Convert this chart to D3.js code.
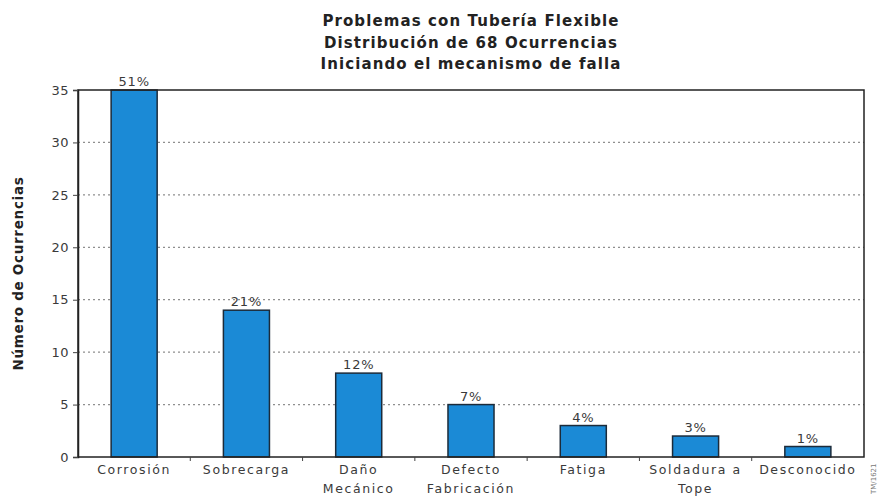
<!DOCTYPE html>
<html>
<head>
<meta charset="utf-8">
<script src="https://cdn.jsdelivr.net/npm/d3@7"></script>
<style>
  html, body { margin: 0; padding: 0; background: #fff; }
  svg { display: block; font-family: "DejaVu Sans", Verdana, sans-serif; }
</style>
</head>
<body>
<svg id="chart" width="880" height="498"></svg>
<script>
// Failure mechanisms for flexible pipe (68 occurrences)
const categories = [
  ["Corrosión"],
  ["Sobrecarga"],
  ["Daño", "Mecánico"],
  ["Defecto", "Fabricación"],
  ["Fatiga"],
  ["Soldadura a", "Tope"],
  ["Desconocido"]
];
const occurrences = [35, 14, 8, 5, 3, 2, 1];
const percentLabels = ["51%", "21%", "12%", "7%", "4%", "3%", "1%"];
const yTicks = [0, 5, 10, 15, 20, 25, 30, 35];
const titleLines = [
  "Problemas con Tubería Flexible",
  "Distribución de 68 Ocurrencias",
  "Iniciando el mecanismo de falla"
];

const svg = d3.select("#chart");
const margin = { left: 78, right: 16, top: 90, bottom: 41 };
const W = 880, H = 498;
const innerW = W - margin.left - margin.right;
const innerH = H - margin.top - margin.bottom;

const g = svg.append("g").attr("transform", `translate(${margin.left},${margin.top})`);

const x = d3.scaleBand()
  .domain(d3.range(categories.length))
  .range([0, innerW])
  .paddingInner(0.59)
  .paddingOuter(0.295);

const y = d3.scaleLinear().domain([0, 35]).range([innerH, 0]);

// Dotted gridlines
g.append("g")
  .selectAll("line")
  .data(yTicks.filter(t => t > 0 && t < 35))
  .join("line")
  .attr("x1", 0).attr("x2", innerW)
  .attr("y1", d => y(d)).attr("y2", d => y(d))
  .attr("stroke", "#8f8f8f")
  .attr("stroke-width", 1.3)
  .attr("stroke-dasharray", "2,3");

// Bars
g.append("g")
  .selectAll("rect")
  .data(occurrences)
  .join("rect")
  .attr("x", (d, i) => x(i))
  .attr("y", d => y(d))
  .attr("width", x.bandwidth())
  .attr("height", d => innerH - y(d))
  .attr("fill", "#1b8ad6")
  .attr("stroke", "#1c2b3a")
  .attr("stroke-width", 1.5);

// Percentage labels
g.append("g")
  .selectAll("text")
  .data(occurrences)
  .join("text")
  .attr("x", (d, i) => x(i) + x.bandwidth() / 2)
  .attr("y", d => y(d) - 4)
  .attr("text-anchor", "middle")
  .attr("font-size", 13)
  .attr("letter-spacing", 0.8)
  .attr("fill", "#3a3a3a")
  .text((d, i) => percentLabels[i]);

// Plot frame
g.append("rect")
  .attr("x", 0).attr("y", 0)
  .attr("width", innerW).attr("height", innerH)
  .attr("fill", "none")
  .attr("stroke", "#222")
  .attr("stroke-width", 1.5);

// Y axis
const yAxis = g.append("g")
  .call(d3.axisLeft(y).tickValues(yTicks).tickSize(5).tickPadding(4));
yAxis.select(".domain").attr("stroke", "#222").attr("stroke-width", 1.5);
yAxis.selectAll(".tick line").attr("stroke", "#444");
yAxis.selectAll(".tick text")
  .attr("font-size", 13)
  .attr("letter-spacing", 0.5)
  .attr("fill", "#3a3a3a")
  .attr("font-family", "DejaVu Sans, Verdana, sans-serif");

// X axis: ticks between categories, multi-line labels
const xg = g.append("g").attr("transform", `translate(0,${innerH})`);
xg.selectAll("line")
  .data(d3.range(1, categories.length))
  .join("line")
  .attr("x1", i => i * (innerW / categories.length))
  .attr("x2", i => i * (innerW / categories.length))
  .attr("y1", 0).attr("y2", 4)
  .attr("stroke", "#444");

xg.selectAll("text")
  .data(categories)
  .join("text")
  .attr("x", (d, i) => x(i) + x.bandwidth() / 2)
  .attr("y", 17)
  .attr("text-anchor", "middle")
  .attr("font-size", 12.5)
  .attr("letter-spacing", 1.6)
  .attr("fill", "#3a3a3a")
  .each(function(lines) {
    d3.select(this).selectAll("tspan")
      .data(lines)
      .join("tspan")
      .attr("x", d3.select(this).attr("x"))
      .attr("dy", (l, k) => k === 0 ? 0 : 19)
      .text(l => l);
  });

// Y axis title
svg.append("text")
  .attr("transform", `translate(23,${margin.top + innerH / 2}) rotate(-90)`)
  .attr("text-anchor", "middle")
  .attr("font-size", 13.5)
  .attr("font-weight", "bold")
  .attr("letter-spacing", 0.7)
  .attr("fill", "#222")
  .text("Número de Ocurrencias");

// Chart title
svg.append("g")
  .selectAll("text")
  .data(titleLines)
  .join("text")
  .attr("x", 471)
  .attr("y", (d, i) => 26 + i * 21.5)
  .attr("text-anchor", "middle")
  .attr("font-size", 15)
  .attr("font-weight", "bold")
  .attr("letter-spacing", 1.1)
  .attr("fill", "#222")
  .text(d => d);

// Figure reference code, rotated at the lower right
svg.append("text")
  .attr("transform", "translate(876,494) rotate(-90)")
  .attr("font-size", 7)
  .attr("fill", "#777")
  .text("TM/1621");
</script>
</body>
</html>
